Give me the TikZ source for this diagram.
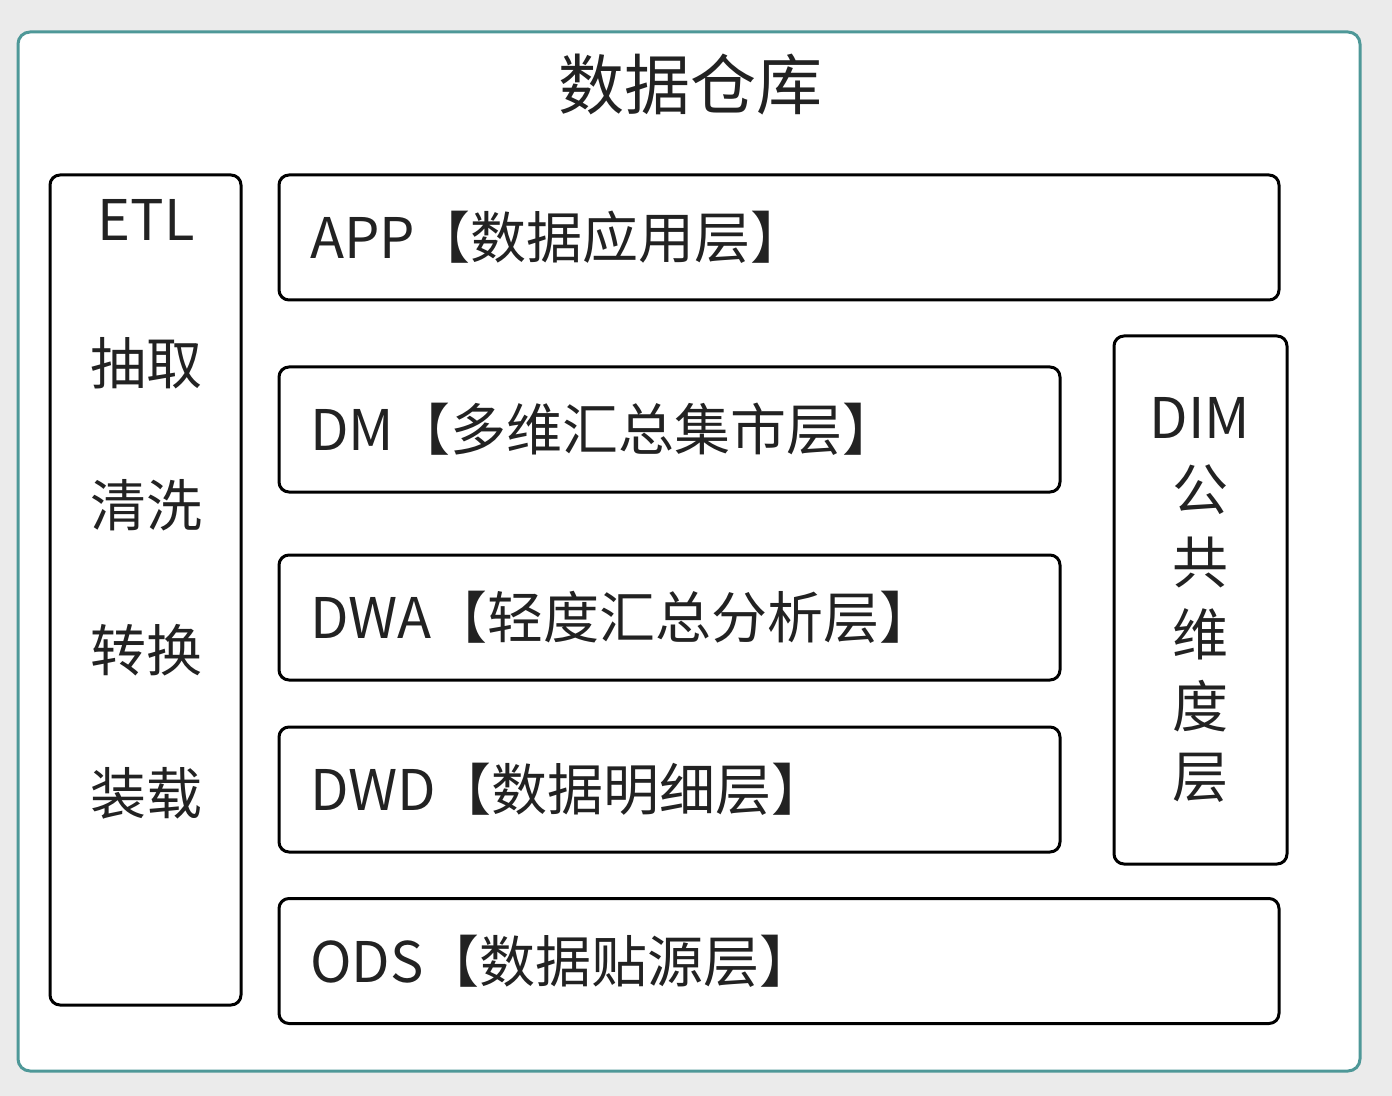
\documentclass[tikz,border=0pt]{standalone}
\usepackage{fontspec}
\setmainfont{Noto Sans CJK SC}
\definecolor{bgGray}{RGB}{235,235,235}
\definecolor{frameTeal}{RGB}{78,152,152}
\definecolor{inkGray}{RGB}{34,34,34}
\begin{document}
\begin{tikzpicture}
            [x=0.5pt, y=-0.5pt,
        layer/.style={rectangle, draw=black, line width=1.5pt, rounded corners=5pt, minimum height=62.5pt, inner xsep=15.5pt, align=left, font=\fontsize{28pt}{32pt}\selectfont, text=inkGray},
        column/.style={rectangle, draw=black, line width=1.5pt, rounded corners=5pt},
        colText/.style={inner sep=0pt, font=\fontsize{28pt}{32pt}\selectfont, text=inkGray}]
            \useasboundingbox[fill=bgGray] (0,0) rectangle (1392,1096);
            \node[draw=frameTeal, fill=white, line width=1.5pt, rounded corners=6pt, minimum width=671pt, minimum height=519.5pt] (warehouse) at (689,551.5) {};
            \node[font=\fontsize{33pt}{38pt}\selectfont, text=inkGray] (title) at (690,85) {数据仓库};
            
            \node[layer, text width=469pt] (app) at (779,237.5) {\raisebox{-2pt}{APP【数据应用层】}};
            \node[layer, text width=359.5pt] (dm) at (669.5,429.5) {\raisebox{-2pt}{DM【多维汇总集市层】}};
            \node[layer, text width=359.5pt] (dwa) at (669.5,617.5) {\raisebox{-2pt}{DWA【轻度汇总分析层】}};
            \node[layer, text width=359.5pt] (dwd) at (669.5,789.5) {\raisebox{-2pt}{DWD【数据明细层】}};
            \node[layer, text width=469pt] (ods) at (779,961) {\raisebox{-2pt}{ODS【数据贴源层】}};
            
            \node[column, minimum width=95.5pt, minimum height=415pt] (etl) at (145.5,590) {};
            \node[colText] (etlName) at (146,220) {ETL};
            \node[colText] (extract) at (146,363) {抽取};
            \node[colText] (clean) at (146,505) {清洗};
            \node[colText] (transform) at (146,650) {转换};
            \node[colText] (load) at (146,793) {装载};
            
            \node[column, minimum width=86.5pt, minimum height=264pt] (dim) at (1200.5,600) {};
            \foreach \ch [count=\i] in {DIM,公,共,维,度,层}
                \node[colText] (dim\i) at (1200,346+72*\i) {\ch};
        \end{tikzpicture}
\end{document}
